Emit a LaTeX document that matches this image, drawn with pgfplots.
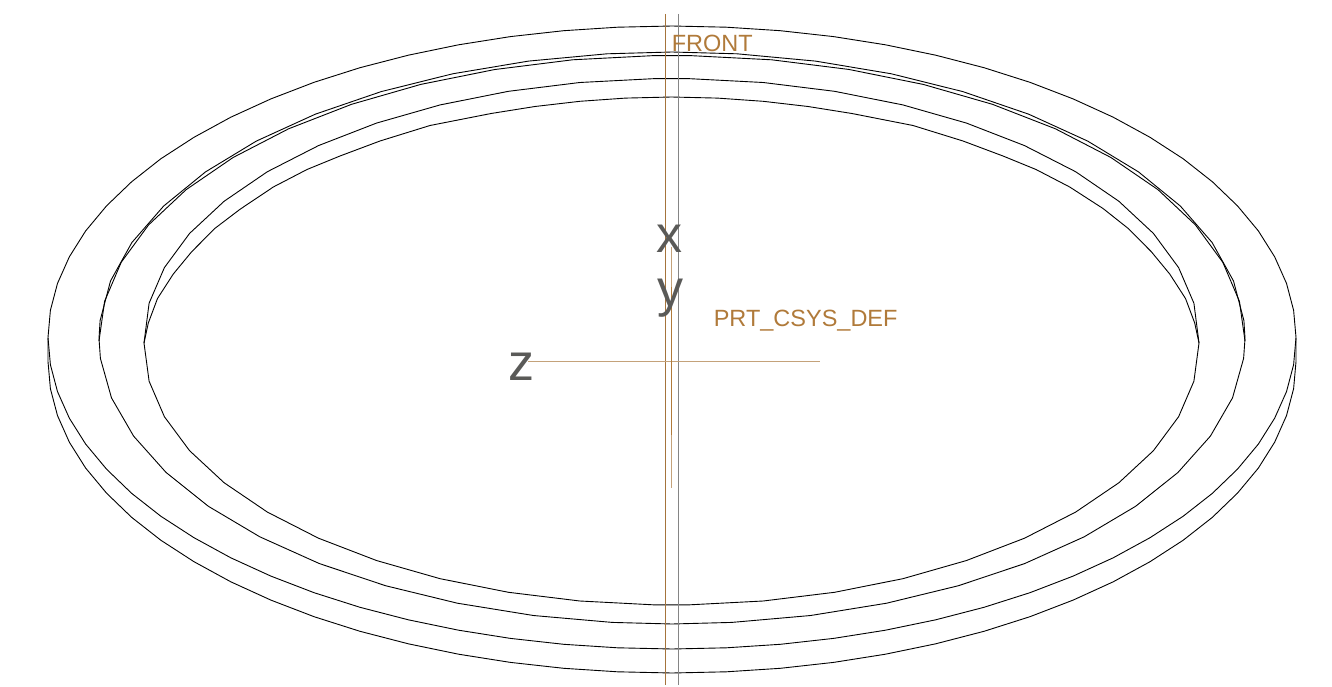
\documentclass[border=0pt]{standalone}
\usepackage{fontspec}
\setmainfont{Liberation Sans}
\usepackage{pgfplots}
\pgfplotsset{compat=1.18}
\definecolor{csys}{HTML}{B07A3A}
\definecolor{csyslight}{HTML}{C4A27A}
\definecolor{axlabel}{HTML}{5A5A58}
\definecolor{planeline}{HTML}{A5743C}
\definecolor{planegray}{HTML}{858585}
\begin{document}
\begin{tikzpicture}
\begin{axis}[
    scale only axis,
    width=1332pt,
    height=687pt,
    xmin=0, xmax=1332,
    ymin=0, ymax=687,
    y dir=reverse,
    hide axis,
    clip=false,
    every axis plot/.append style={no marks, line join=round},
    edge/.style={draw=black, line width=0.9pt},
]
% keeps the page at the full size
\path (axis cs:0,0) rectangle (axis cs:1332,687);

% outer ring, top rim
\addplot[edge] coordinates {
(48,337.5)(50.4,310.3)(57.5,283.4)(69.3,256.9)(85.6,231)(106.5,205.9)(131.6,181.8)(160.8,158.8)(194,137.3)(230.8,117.2)(270.9,98.9)(314.1,82.3)(360,67.7)(408.3,55.2)(458.6,44.8)(510.5,36.6)(563.7,30.7)(617.6,27.2)(672,26)(726.4,27.2)(780.3,30.7)(833.5,36.6)(885.4,44.8)(935.7,55.2)(984,67.7)(1029.9,82.3)(1073.1,98.9)(1113.2,117.2)(1150,137.3)(1183.2,158.8)(1212.4,181.8)(1237.5,205.9)(1258.4,231)(1274.7,256.9)(1286.5,283.4)(1293.6,310.3)(1296,337.5)
};
\addplot[edge] coordinates {
(48,337.5)(50.4,364.7)(57.5,391.6)(69.3,418.1)(85.6,444)(106.5,469.1)(131.6,493.3)(160.8,516.2)(194,537.7)(230.8,557.8)(270.9,576.1)(314.1,592.7)(360,607.3)(408.3,619.8)(458.6,630.2)(510.5,638.4)(563.7,644.3)(617.6,647.8)(672,649)(726.4,647.8)(780.3,644.3)(833.5,638.4)(885.4,630.2)(935.7,619.8)(984,607.3)(1029.9,592.7)(1073.1,576.1)(1113.2,557.8)(1150,537.7)(1183.2,516.2)(1212.4,493.3)(1237.5,469.1)(1258.4,444)(1274.7,418.1)(1286.5,391.6)(1293.6,364.7)(1296,337.5)
};
% outer ring, bottom rim
\addplot[edge] coordinates {
(48,337.5)(48,361.5)(50.4,388.7)(57.5,415.6)(69.3,442.1)(85.6,468)(106.5,493.1)(131.6,517.3)(160.8,540.2)(194,561.7)(230.8,581.8)(270.9,600.1)(314.1,616.7)(360,631.3)(408.3,643.8)(458.6,654.2)(510.5,662.4)(563.7,668.3)(617.6,671.8)(672,673)(726.4,671.8)(780.3,668.3)(833.5,662.4)(885.4,654.2)(935.7,643.8)(984,631.3)(1029.9,616.7)(1073.1,600.1)(1113.2,581.8)(1150,561.7)(1183.2,540.2)(1212.4,517.3)(1237.5,493.1)(1258.4,468)(1274.7,442.1)(1286.5,415.6)(1293.6,388.7)(1296,361.5)(1296,337.5)
};

% middle ring
\addplot[edge] coordinates {
(99,338.5)(100.1,320.6)(110.5,281)(131.9,242.5)(163.7,206)(205.5,171.9)(256.3,141.1)(315.3,114.2)(381.2,91.6)(452.7,73.8)(528.5,61.1)(607.1,53.8)(672,52)(736.9,53.8)(815.5,61.1)(891.3,73.8)(962.8,91.6)(1028.7,114.2)(1087.7,141.1)(1138.5,171.9)(1180.3,206)(1212.1,242.5)(1233.5,281)(1243.9,320.6)(1245,338.5)
};
\addplot[edge] coordinates {
(99,341)(104.6,301.3)(121.2,262.3)(148.6,224.9)(186.1,189.7)(233.1,157.5)(288.6,128.8)(351.6,104.3)(420.8,84.4)(494.9,69.5)(572.5,59.8)(652,55.7)(692,55.7)(771.5,59.8)(849.1,69.5)(923.2,84.4)(992.4,104.3)(1055.4,128.8)(1110.9,157.5)(1158,189.7)(1195.4,224.9)(1222.8,262.3)(1239.4,301.3)(1245,341)
};
\addplot[edge] coordinates {
(99,338.5)(100.4,358.4)(111.5,397.9)(133.6,436.1)(166.1,472.5)(208.4,506.3)(259.8,536.8)(319.2,563.5)(385.5,585.7)(457.4,603.2)(533.4,615.5)(612.1,622.4)(672,624)(731.9,622.4)(810.6,615.5)(886.6,603.2)(958.5,585.7)(1024.8,563.5)(1084.2,536.8)(1135.6,506.3)(1177.9,472.5)(1210.4,436.1)(1232.5,397.9)(1243.6,358.4)(1245,338.5)
};

% inner ring
\addplot[edge] coordinates {
(144,343)(149.1,303.2)(164.4,267.6)(189.6,233.4)(224.2,201.2)(267.4,171.7)(318.5,145.6)(376.5,123.1)(440.2,104.9)(508.5,91.3)(579.9,82.5)(653.1,78.7)(689.9,78.7)(763.1,82.5)(834.5,91.3)(902.8,104.9)(966.5,123.1)(1024.5,145.6)(1075.6,171.7)(1118.8,201.2)(1153.4,233.4)(1178.6,267.6)(1193.9,303.2)(1199,343)
};
\addplot[edge] coordinates {
(144,343)(148.3,323)(157.5,298.5)(173.3,274)(191.7,251.7)(215,228.3)(240,209.3)(273.3,187)(307,169.5)(340,156)(380,141)(430,125.5)(491.1,113.5)(535,106.5)(579.9,101.3)(625.5,98.1)(671.5,97)(717.5,98.1)(763.1,101.3)(808,106.5)(851.9,113.5)(913,125.5)(963,141)(1003,156)(1036,169.5)(1069.7,187)(1103,208.5)(1128,228.3)(1151.3,251.7)(1169.7,274)(1185.5,298.5)(1194.7,323)(1199,343)
};
\addplot[edge] coordinates {
(144,343)(149.1,381.2)(164.4,416.7)(189.6,450.7)(224.2,482.8)(267.4,512.1)(318.5,538.2)(376.5,560.5)(440.2,578.7)(508.5,592.3)(579.9,601)(653.1,604.8)(689.9,604.8)(763.1,601)(834.5,592.3)(902.8,578.7)(966.5,560.5)(1024.5,538.2)(1075.6,512.1)(1118.8,482.8)(1153.4,450.7)(1178.6,416.7)(1193.9,381.2)(1199,343)
};

% datum plane edges
\addplot[draw=planeline, line width=0.9pt] coordinates {(665.5,14)(665.5,685)};
\addplot[draw=planegray, line width=0.9pt] coordinates {(678.5,14)(678.5,685)};

% coordinate system
\addplot[draw=csyslight, line width=1pt] coordinates {(528,361.5)(819.5,361.5)};
\addplot[draw=csyslight, line width=1pt] coordinates {(671.5,247)(671.5,488)};
\addplot[draw=csys, line width=1pt] coordinates {(671.5,287)(671.5,435)};

\node[anchor=base west, inner sep=0pt, text=axlabel, font=\fontsize{52}{60}\selectfont] at (axis cs:656,252.5) {x};
\node[anchor=base west, inner sep=0pt, text=axlabel, font=\fontsize{52}{60}\selectfont] at (axis cs:657,306) {y};
\node[anchor=base west, inner sep=0pt, text=axlabel, font=\fontsize{52}{60}\selectfont] at (axis cs:508,380.5) {z};
\node[anchor=base west, inner sep=0pt, text=csys, font=\fontsize{23.5}{28}\selectfont] at (axis cs:671.6,51.7) {FRONT};
\node[anchor=base west, inner sep=0pt, text=csys, font=\fontsize{23.5}{28}\selectfont] at (axis cs:713.6,326.7) {PRT\_CSYS\_DEF};
\end{axis}
\end{tikzpicture}
\end{document}
